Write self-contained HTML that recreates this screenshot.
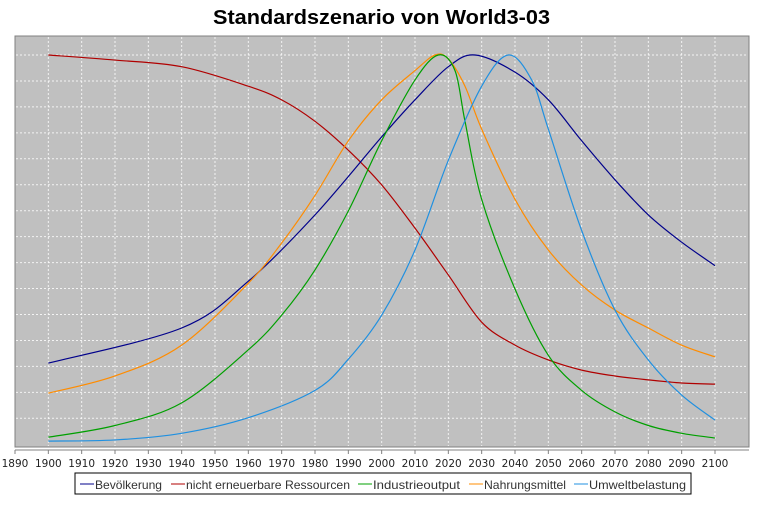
<!DOCTYPE html>
<html><head><meta charset="utf-8"><style>
body{margin:0;background:#fff;width:757px;height:500px;overflow:hidden;font-family:"Liberation Sans",sans-serif}
</style></head><body>
<svg width="757" height="500" xmlns="http://www.w3.org/2000/svg">
<text x="213" y="24" textLength="337" lengthAdjust="spacingAndGlyphs" font-size="20" font-weight="bold" font-family="Liberation Sans, sans-serif">Standardszenario von World3-03</text>
<rect x="15" y="36" width="734" height="411" fill="#c0c0c0" stroke="#808080"/>
<g id="grid"></g>
<g id="xaxis"></g>
<g id="series"></g>
<g>
<rect x="75" y="473" width="616" height="21" fill="#fff" stroke="#000"/>
<g font-size="12" fill="#333" font-family="Liberation Sans, sans-serif">
<line x1="80" y1="484" x2="94" y2="484" stroke="#00008b"/><text x="95" y="489" textLength="67" lengthAdjust="spacingAndGlyphs">Bevölkerung</text>
<line x1="171" y1="484" x2="185" y2="484" stroke="#b00000"/><text x="186" y="489" textLength="164" lengthAdjust="spacingAndGlyphs">nicht erneuerbare Ressourcen</text>
<line x1="358" y1="484" x2="372" y2="484" stroke="#00a000"/><text x="373" y="489" textLength="87" lengthAdjust="spacingAndGlyphs">Industrieoutput</text>
<line x1="469" y1="484" x2="483" y2="484" stroke="#ff8c00"/><text x="484" y="489" textLength="82" lengthAdjust="spacingAndGlyphs">Nahrungsmittel</text>
<line x1="574" y1="484" x2="588" y2="484" stroke="#2090e0"/><text x="589" y="489" textLength="97" lengthAdjust="spacingAndGlyphs">Umweltbelastung</text>
</g></g>
</svg>
<script>
const years=[1890,1900,1910,1920,1930,1940,1950,1960,1970,1980,1990,2000,2010,2020,2030,2040,2050,2060,2070,2080,2090,2100];
const popYears=[1900,1940,1960,1980,2000,2010,2020,2028,2040,2050,2060,2070,2080,2090,2100];
const popVals=[0.21,0.30,0.42,0.59,0.79,0.885,0.97,1.0,0.956,0.885,0.78,0.68,0.59,0.52,0.46];
const resYears=[1900,1920,1940,1960,1970,1980,1990,2000,2010,2020,2030,2040,2050,2060,2070,2080,2090,2100];
const resVals=[1.0,0.987,0.97,0.92,0.885,0.83,0.756,0.667,0.556,0.436,0.315,0.256,0.218,0.192,0.177,0.167,0.159,0.156];
const foodYears=[1900,1920,1940,1960,1970,1980,1990,2000,2010,2016,2020,2025,2030,2040,2050,2060,2070,2080,2090,2100];
const foodVals=[0.133,0.177,0.256,0.415,0.518,0.64,0.78,0.885,0.96,1.0,0.99,0.92,0.81,0.63,0.5,0.41,0.346,0.3,0.256,0.226];
const indYears=[1900,1920,1940,1960,1970,1980,1990,2000,2010,2017,2022,2025,2030,2040,2050,2060,2070,2080,2090,2100];
const indVals=[0.02,0.05,0.108,0.244,0.333,0.449,0.6,0.78,0.936,1.0,0.96,0.83,0.63,0.4,0.23,0.14,0.085,0.05,0.03,0.018];
const polYears=[1900,1920,1940,1960,1980,1990,2000,2010,2020,2030,2038,2045,2050,2060,2070,2080,2090,2100];
const polVals=[0.01,0.013,0.03,0.07,0.14,0.22,0.333,0.5,0.73,0.92,1.0,0.936,0.81,0.55,0.346,0.218,0.128,0.064];
const X=y=>15+(y-1890)*3.3333, Y=v=>445-v*390;
const NS="http://www.w3.org/2000/svg";
function mk(t,a,p){const e=document.createElementNS(NS,t);for(const k in a)e.setAttribute(k,a[k]);p.appendChild(e);return e;}
const grid=document.getElementById('grid'),xa=document.getElementById('xaxis'),ser=document.getElementById('series');
for(let i=0;i<15;i++){const l=mk('line',{x1:16,x2:748,y1:55+i*25.95,y2:55+i*25.95,stroke:'#fff','stroke-dasharray':'2,2','stroke-opacity':0.8},grid);

}
years.forEach(y=>{if(y>1890){const l=mk('line',{x1:X(y),x2:X(y),y1:37,y2:446,stroke:'#fff','stroke-dasharray':'2,2','stroke-opacity':0.8},grid);

}
mk('line',{x1:X(y),x2:X(y),y1:450,y2:454,stroke:'#808080'},xa);
const t=mk('text',{x:X(y),y:467,'text-anchor':'middle','font-size':10.5,fill:'#222','font-family':'DejaVu Sans, sans-serif'},xa);t.textContent=y;

});
mk('line',{x1:15,x2:749,y1:450,y2:450,stroke:'#808080'},xa);
function path(ys,vs,c,n){const pts=ys.map((y,i)=>[X(y),Y(vs[i])]);let d='M'+pts[0];
for(let i=0;i<pts.length-1;i++){const p0=pts[Math.max(0,i-1)],p1=pts[i],p2=pts[i+1],p3=pts[Math.min(pts.length-1,i+2)];
d+=` C${p1[0]+(p2[0]-p0[0])/6},${p1[1]+(p2[1]-p0[1])/6} ${p2[0]-(p3[0]-p1[0])/6},${p2[1]-(p3[1]-p1[1])/6} ${p2[0]},${p2[1]}`;}
const e=mk('path',{d:d,fill:'none',stroke:c,'stroke-width':1.2},ser);

}
path(resYears,resVals,'#b00000','line-ressourcen');
path(popYears,popVals,'#00008b','line-bevoelkerung');
path(foodYears,foodVals,'#ff8c00','line-nahrungsmittel');
path(indYears,indVals,'#00a000','line-industrieoutput');
path(polYears,polVals,'#2090e0','line-umweltbelastung');
</script>
</body></html>
